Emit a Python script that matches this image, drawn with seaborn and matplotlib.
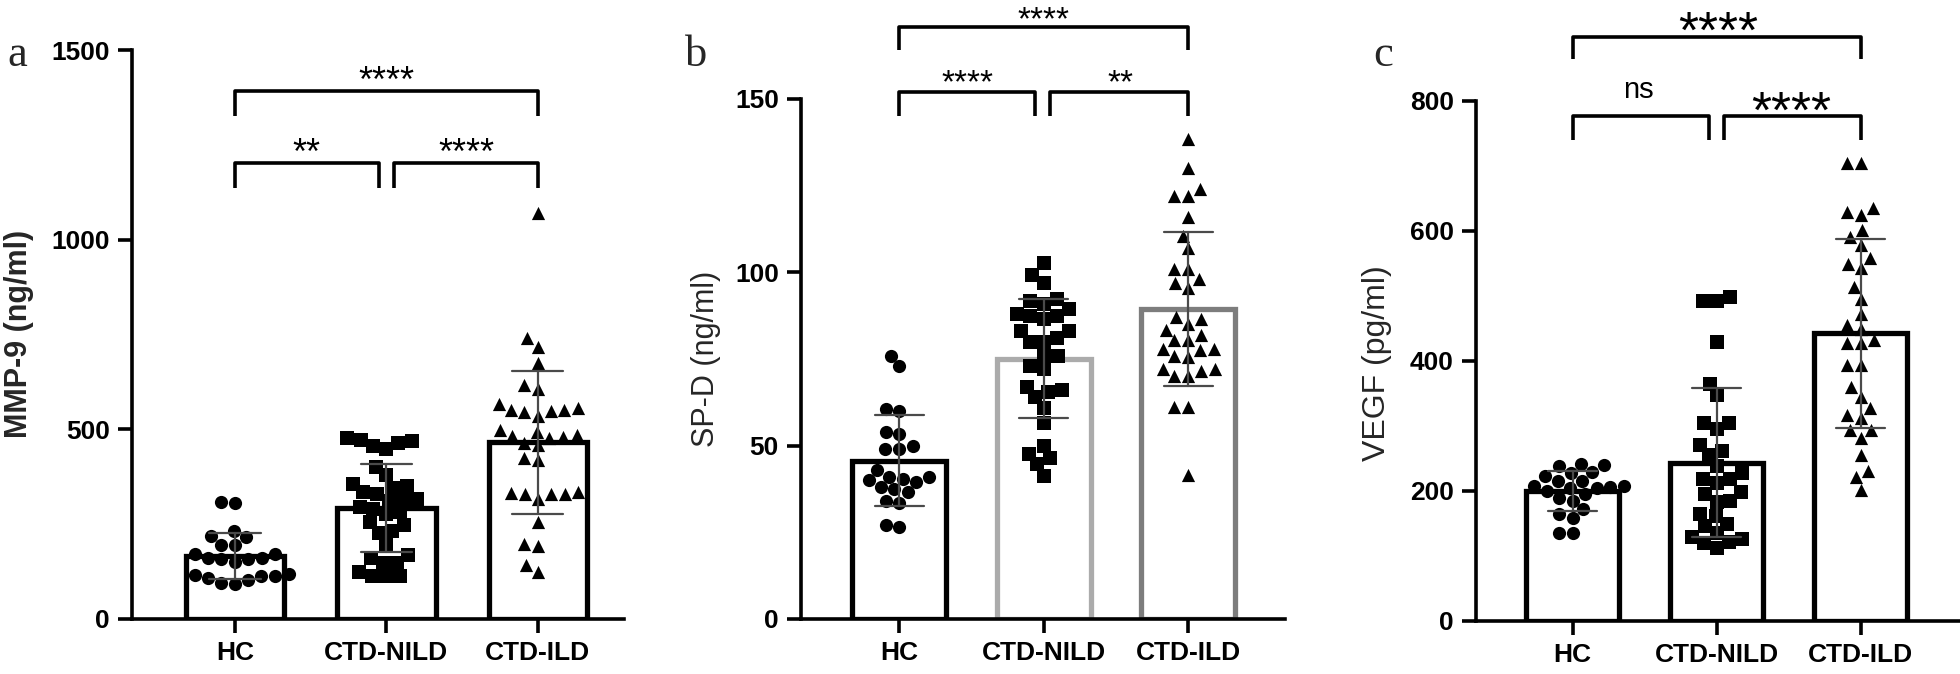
import numpy as np
import pandas as pd
import matplotlib
matplotlib.use("Agg")
import matplotlib.pyplot as plt
import seaborn as sns

# ---------------- data ----------------
groups = ["HC", "CTD-NILD", "CTD-ILD"]
markers = ["o", "s", "^"]

mmp9_hc = [308, 306, 232, 218, 215, 195, 195, 172, 172, 160, 160, 159, 158, 150,
           119, 116, 113, 113, 108, 102, 96, 93]
mmp9_nild = [476, 472, 470, 465, 455, 448, 402, 380, 357, 351, 345, 334, 329, 317,
             317, 312, 295, 289, 283, 278, 255, 249, 232, 227, 198, 170, 147, 147,
             125, 113, 113, 113, 160]
mmp9_ild = [1069, 740, 717, 675, 616, 607, 567, 555, 550, 550, 548, 545, 535, 499,
            493, 485, 482, 480, 478, 465, 458, 425, 420, 334, 333, 329, 329, 329,
            317, 255, 198, 193, 142, 125]

spd_hc = [76, 73, 60.5, 60, 54, 53.5, 50, 49, 49, 43, 41, 40.5, 39.5, 41, 40, 38,
          37.5, 36.5, 34, 33.5, 27, 26.5]
spd_nild = [102.6, 99.2, 97, 92.4, 91.7, 88, 91, 89.3, 87.4, 87.4, 86.5, 83, 83, 81,
            80, 80, 76, 76, 73, 72, 67, 65.5, 64, 66, 61, 56.4, 50, 46.5, 47.7,
            44.6, 41.2]
spd_ild = [138.5, 130, 124, 122, 122, 116, 110.5, 107, 101, 101, 98, 97, 95.5, 87,
           86.5, 85, 83.5, 82, 80.5, 80.5, 78, 78, 77.5, 76, 75.5, 72, 72, 71.5, 70,
           70, 61.2, 61.2, 41.5]

vegf_hc = [241, 240, 238, 229, 200, 228, 223, 216, 216, 208, 208, 206, 205, 205,
           195, 190, 185, 172, 165, 159, 136, 136]
vegf_nild = [499, 493, 492, 430, 365, 347, 304, 304, 296, 271, 261, 255, 238, 228,
             218, 218, 212, 198, 195, 185, 183, 165, 162, 149, 146, 135, 130, 126,
             122, 112, 120]
vegf_ild = [704, 704, 635, 630, 625, 601, 591, 578, 558, 550, 543, 514, 496, 473,
            455, 450, 432, 427, 427, 394, 394, 360, 345, 327, 317, 312, 294, 294,
            281, 255, 231, 221, 202]

# ---------------- style ----------------
sns.set_theme(style="ticks")
plt.rcParams["font.family"] = ["Liberation Sans", "DejaVu Sans"]
plt.rcParams["axes.edgecolor"] = "black"

W, H = 1960, 674
fig = plt.figure(figsize=(W / 100, H / 100), dpi=100)


def add_ax(l, r, b, t):
    return fig.add_axes([l / W, 1 - b / H, (r - l) / W, (b - t) / H])


def star(ax, x, y, s, fs, kind="star"):
    off = -0.60 * fs if kind == "star" else -0.26 * fs
    ax.annotate(s, xy=(x, y), xytext=(0, off), textcoords="offset points",
                ha="center", va="baseline", fontsize=fs, color="black",
                annotation_clip=False)


def bracket(ax, x1, x2, ytop, yleg):
    ax.plot([x1, x1, x2, x2], [yleg, ytop, ytop, yleg], color="black", lw=2.6,
            clip_on=False, solid_capstyle="butt", zorder=6)


def panel(ax, lists, edgecols, xlim, ylim, yticks):
    df = pd.DataFrame({
        "group": np.repeat(groups, [len(v) for v in lists]),
        "value": np.concatenate([np.asarray(v, float) for v in lists]),
    })
    sns.barplot(data=df, x="group", y="value", order=groups, color="white",
                errorbar="sd", capsize=0.34, width=0.65, linewidth=3.8,
                edgecolor="black",
                err_kws={"color": "#4a4a4a", "linewidth": 1.6}, ax=ax)
    for patch, ec in zip(ax.patches, edgecols):
        patch.set_edgecolor(ec)
        patch.set_facecolor("white")
    for g, m in zip(groups, markers):
        sns.swarmplot(data=df[df.group == g], x="group", y="value", order=groups,
                      marker=m, color="black", size=9.5, linewidth=0,
                      warn_thresh=1.0, ax=ax)
    for ln in ax.lines:
        ln.set_zorder(5)
    ax.set_xlim(*xlim)
    ax.set_ylim(*ylim)
    ax.set_yticks(yticks)
    ax.set_xlabel("")
    ax.set_ylabel("")
    sns.despine(ax=ax)
    for sp in ("left", "bottom"):
        ax.spines[sp].set_linewidth(2.6)
    ax.tick_params(axis="both", width=2.6, length=10, direction="out",
                   labelsize=19, color="black", labelcolor="black")
    ax.tick_params(axis="y", pad=6)
    ax.tick_params(axis="x", pad=6)
    for lab in ax.get_xticklabels() + ax.get_yticklabels():
        lab.set_fontweight("bold")


# ---------------- panel a ----------------
ax_a = add_ax(132, 624, 619, 50)
panel(ax_a, [mmp9_hc, mmp9_nild, mmp9_ild], ["black", "black", "black"],
      (-0.68, 2.57), (0, 1500), [0, 500, 1000, 1500])
bracket(ax_a, 0, 2, 1391, 1327)
bracket(ax_a, 0, 0.95, 1202, 1137)
bracket(ax_a, 1.05, 2, 1202, 1137)
star(ax_a, 1.0, 1446, "****", 26)
star(ax_a, 0.47, 1258, "**", 26)
star(ax_a, 1.53, 1258, "****", 26)

# ---------------- panel b ----------------
ax_b = add_ax(801, 1285, 619, 99)
panel(ax_b, [spd_hc, spd_nild, spd_ild], ["black", "#ababab", "#7d7d7d"],
      (-0.68, 2.67), (0, 150), [0, 50, 100, 150])
bracket(ax_b, 0, 2, 170.9, 164)
bracket(ax_b, 0, 0.94, 152.1, 145)
bracket(ax_b, 1.04, 2, 152.1, 145)
star(ax_b, 1.0, 176, "****", 24)
star(ax_b, 0.47, 157.7, "****", 24)
star(ax_b, 1.53, 157.7, "**", 24)

# ---------------- panel c ----------------
ax_c = add_ax(1476, 1960, 621, 101)
panel(ax_c, [vegf_hc, vegf_nild, vegf_ild], ["black", "black", "black"],
      (-0.67, 2.69), (0, 800), [0, 200, 400, 600, 800])
bracket(ax_c, 0, 2, 899, 864)
bracket(ax_c, 0, 0.95, 777, 740)
bracket(ax_c, 1.05, 2, 777, 740)
star(ax_c, 1.01, 930, "****", 37)
star(ax_c, 0.46, 816, "ns", 21, kind="text")
star(ax_c, 1.52, 807, "****", 37)

# ---------------- labels ----------------
fig.text(19 / W, 1 - 334 / H, "MMP-9 (ng/ml)", rotation=90, ha="center",
         va="center", fontsize=22, fontweight="bold")
fig.text(706 / W, 1 - 359 / H, "SP-D (ng/ml)", rotation=90, ha="center",
         va="center", fontsize=22)
fig.text(1377 / W, 1 - 363 / H, "VEGF (pg/ml)", rotation=90, ha="center",
         va="center", fontsize=23)

for x, lab in [(17, "a"), (696, "b"), (1383, "c")]:
    fig.text(x / W, 1 - 55 / H, lab, ha="center", va="center", fontsize=32,
             family=["Liberation Serif", "DejaVu Serif"])

fig.savefig("out.png", dpi=100)
